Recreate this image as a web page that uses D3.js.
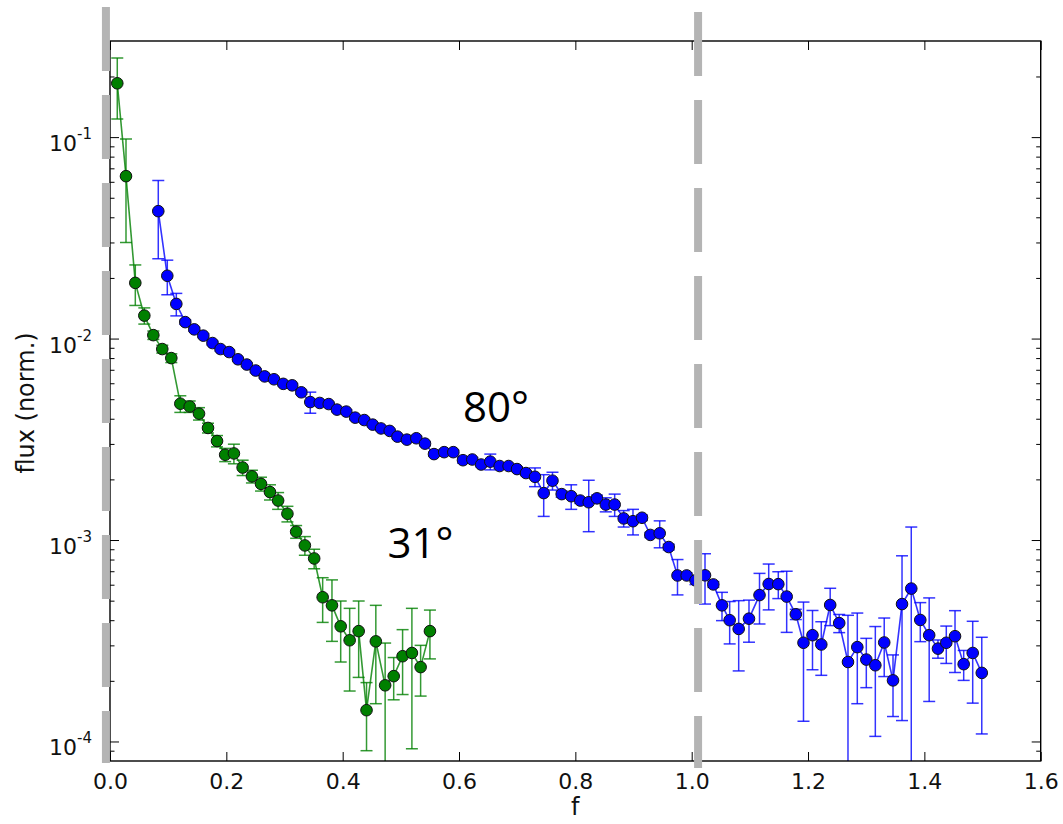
<!DOCTYPE html>
<html>
<head>
<meta charset="utf-8">
<script src="https://cdn.jsdelivr.net/npm/d3@7"></script>
<style>
  body { margin: 0; background: #fff; }
  svg { display: block; }
</style>
</head>
<body>
<div id="chart"></div>
<script>
// 31 degree series (green)
const greenF = [0.0125, 0.0275, 0.0435, 0.059, 0.0745, 0.0899, 0.1054, 0.1209, 0.137, 0.153,
  0.1685, 0.184, 0.198, 0.213, 0.228, 0.244, 0.2596, 0.275, 0.289, 0.305,
  0.320, 0.335, 0.351, 0.3656, 0.3816, 0.3966, 0.412, 0.4275, 0.441, 0.457,
  0.473, 0.4877, 0.503, 0.519, 0.534, 0.550];
const greenFlux = [0.185, 0.064, 0.0189, 0.013, 0.0104, 0.00887, 0.0080, 0.00475, 0.0046, 0.00424,
  0.0036, 0.0031, 0.00265, 0.00269, 0.00229, 0.00207, 0.0019, 0.00173, 0.00157, 0.00135,
  0.0011, 0.00094, 0.00081, 0.00052, 0.000474, 0.000373, 0.000318, 0.000353, 0.000143, 0.000314,
  0.00019, 0.000211, 0.000265, 0.000275, 0.000234, 0.000353];
const greenErr = [0.062, 0.034, 0.0043, 0.0012, 0.0005, 0.0004, 0.0004, 0.00045, 0.0003, 0.0003,
  0.0002, 0.0002, 0.0002, 0.0003, 0.0002, 0.00015, 0.00015, 0.00015, 0.00015, 0.00012,
  0.00008, 0.0001, 0.00009, 0.00013, 0.00016, 0.000125, 0.00014, 0.000145, 0.000053, 0.00016,
  0.000118, 0.00005, 0.000094, 0.000183, 0.000066, 0.000096];

// 80 degree series (blue)
const blueF = [0.0830, 0.0985, 0.1140, 0.1294, 0.1449, 0.1604, 0.1762, 0.1900, 0.2049, 0.2200,
  0.2352, 0.2505, 0.2659, 0.2819, 0.2979, 0.3132, 0.3289, 0.3443, 0.3605, 0.3760,
  0.3902, 0.4062, 0.4215, 0.4372, 0.4516, 0.4659, 0.4808, 0.4942, 0.5104, 0.5266,
  0.5415, 0.5570, 0.5745, 0.5902, 0.6068, 0.6228, 0.6381, 0.6538, 0.6698, 0.6852,
  0.6997, 0.7151, 0.7306, 0.7456, 0.7607, 0.7765, 0.7929, 0.8085, 0.8230, 0.8372,
  0.8523, 0.8676, 0.8831, 0.8991, 0.9146, 0.9289, 0.9450, 0.9605, 0.9756, 0.9914,
  1.0065, 1.0229, 1.0372, 1.0521, 1.0653, 1.0808, 1.0985, 1.1166, 1.1324, 1.1489,
  1.1633, 1.1790, 1.1922, 1.2077, 1.2228, 1.2381, 1.2536, 1.2687, 1.2847, 1.3002,
  1.3157, 1.3310, 1.3461, 1.3616, 1.3775, 1.3930, 1.4083, 1.4234, 1.4377, 1.4527,
  1.4676, 1.4831, 1.4987];
const blueFlux = [0.0429, 0.0205, 0.01486, 0.01207, 0.01111, 0.01034, 0.0095, 0.00887, 0.00857, 0.00789,
  0.00743, 0.00694, 0.00649, 0.00628, 0.00596, 0.00586, 0.00541, 0.00484, 0.00479, 0.00473,
  0.00444, 0.00434, 0.00405, 0.00394, 0.00374, 0.00358, 0.00348, 0.00326, 0.00315, 0.00320,
  0.00301, 0.00267, 0.00273, 0.00273, 0.00249, 0.00251, 0.00237, 0.00245, 0.00233, 0.00233,
  0.00225, 0.00215, 0.00206, 0.00171, 0.00197, 0.00169, 0.00165, 0.00157, 0.00154, 0.00161,
  0.00150, 0.00150, 0.00128, 0.00124, 0.00129, 0.00106, 0.00108, 0.000923, 0.000667, 0.000667,
  0.000631, 0.000668, 0.000602, 0.000474, 0.000400, 0.000362, 0.000407, 0.000533, 0.000605, 0.000604,
  0.000524, 0.000428, 0.000309, 0.000337, 0.000303, 0.000476, 0.000387, 0.000248, 0.000294, 0.000255,
  0.000239, 0.000310, 0.000201, 0.000481, 0.000574, 0.000401, 0.000337, 0.000289, 0.000309, 0.000333,
  0.000242, 0.000275, 0.000219];
const blueErr = [0.018, 0.004, 0.0019, 0.0003, 0.00025, 0.00022, 0.0002, 0.0002, 0.00018, 0.00017,
  0.00016, 0.00015, 0.00014, 0.00013, 0.00013, 0.00012, 0.00012, 0.00058, 0.0001, 0.0001,
  0.0001, 0.00009, 0.00009, 0.00008, 0.00008, 0.00008, 0.00007, 0.00007, 0.00007, 0.00007,
  0.00007, 0.00006, 0.00008, 0.00006, 0.00008, 0.00006, 0.00006, 0.00022, 0.00006, 0.00005,
  0.00006, 0.00006, 0.00022, 0.0004, 0.0002, 0.00006, 0.00023, 0.00005, 0.00044, 0.00006,
  0.00012, 0.00019, 0.00012, 0.00018, 0.00004, 0.00003, 0.000165, 0.00003, 0.000133, 0.00002,
  0.00003, 0.000187, 0.00002, 0.000076, 0.000095, 0.000138, 0.000096, 0.00015, 0.000155, 0.000092,
  0.000176, 0.000025, 0.000183, 0.00011, 0.00009, 0.0001, 0.00004, 0.000175, 0.00014, 0.00007,
  0.000133, 0.0001, 0.000068, 0.000354, 0.000586, 0.000088, 0.000179, 0.00003, 0.000065, 0.000113,
  0.000041, 0.00012, 0.00011];

// axes
const xTicks = [0.0, 0.2, 0.4, 0.6, 0.8, 1.0, 1.2, 1.4, 1.6];
const yMajor = [1e-4, 1e-3, 1e-2, 1e-1];
const yExponents = ["-4", "-3", "-2", "-1"];
const xDomain = [0, 1.6];
const yDomain = [8e-5, 0.3];

// annotations
const labelText = ["80°", "31°"];
const labelF = [0.607, 0.477];
const labelFlux = [0.00385, 0.00081];
const guideF = [-0.007, 1.011];

const width = 1063;
const height = 824;
const margin = { top: 41, right: 22.3, bottom: 63, left: 110 };
const plotRight = width - margin.right;
const plotBottom = height - margin.bottom;

const svg = d3.select("#chart").append("svg")
  .attr("width", width)
  .attr("height", height);

const x = d3.scaleLinear().domain(xDomain).range([margin.left, plotRight]);
const y = d3.scaleLog().domain(yDomain).range([plotBottom, margin.top]);

// minor log ticks
const yMinor = [];
for (let e = -5; e <= -1; e++) {
  for (let k = 2; k <= 9; k++) {
    const v = k * Math.pow(10, e);
    if (v > yDomain[0] && v < yDomain[1]) yMinor.push(v);
  }
}

const styleAxis = g => {
  g.select(".domain").remove();
  g.selectAll(".tick line").attr("stroke", "#000").attr("stroke-width", 1);
  g.selectAll("text")
    .attr("font-family", "DejaVu Sans, sans-serif")
    .attr("font-size", 22)
    .attr("fill", "#111");
};

svg.append("g")
  .attr("transform", `translate(0,${plotBottom})`)
  .call(d3.axisBottom(x).tickValues(xTicks).tickSize(-9).tickPadding(12).tickFormat(d3.format(".1f")))
  .call(styleAxis);

svg.append("g")
  .attr("transform", `translate(0,${margin.top})`)
  .call(d3.axisTop(x).tickValues(xTicks).tickSize(-9).tickFormat(""))
  .call(styleAxis);

svg.append("g")
  .attr("transform", `translate(${margin.left},0)`)
  .call(d3.axisLeft(y).tickValues(yMajor).tickSize(-9).tickFormat(""))
  .call(styleAxis);
svg.append("g")
  .attr("transform", `translate(${margin.left},0)`)
  .call(d3.axisLeft(y).tickValues(yMinor).tickSize(-4.5).tickFormat(""))
  .call(styleAxis);
svg.append("g")
  .attr("transform", `translate(${plotRight},0)`)
  .call(d3.axisRight(y).tickValues(yMajor).tickSize(-9).tickFormat(""))
  .call(styleAxis);
svg.append("g")
  .attr("transform", `translate(${plotRight},0)`)
  .call(d3.axisRight(y).tickValues(yMinor).tickSize(-4.5).tickFormat(""))
  .call(styleAxis);

// y tick labels 10^n
const yLabels = svg.append("g")
  .attr("font-family", "DejaVu Sans, sans-serif")
  .attr("fill", "#111");
yMajor.forEach((v, i) => {
  const t = yLabels.append("text")
    .attr("x", margin.left - 18)
    .attr("y", y(v) + 14)
    .attr("text-anchor", "end")
    .attr("font-size", 22);
  t.append("tspan").text("10");
  t.append("tspan").attr("dy", -12).attr("font-size", 15).text(yExponents[i]);
});

// axis titles
svg.append("text")
  .attr("transform", `translate(34,${(margin.top + plotBottom) / 2 + 2}) rotate(-90)`)
  .attr("text-anchor", "middle")
  .attr("font-family", "DejaVu Sans, sans-serif")
  .attr("font-size", 24)
  .attr("fill", "#111")
  .text("flux (norm.)");

svg.append("text")
  .attr("x", (margin.left + plotRight) / 2)
  .attr("y", 815)
  .attr("text-anchor", "middle")
  .attr("font-family", "DejaVu Sans, sans-serif")
  .attr("font-size", 24)
  .attr("fill", "#111")
  .text("f");

// data
svg.append("clipPath").attr("id", "plot-clip")
  .append("rect")
  .attr("x", margin.left).attr("y", margin.top)
  .attr("width", plotRight - margin.left).attr("height", plotBottom - margin.top);

const plot = svg.append("g").attr("clip-path", "url(#plot-clip)");

function drawSeries(fVals, fluxVals, errVals, color) {
  const pts = fVals.map((f, i) => ({ f: f, v: fluxVals[i], e: errVals[i] }));
  const g = plot.append("g");
  const capW = 6;

  const bars = g.append("g")
    .attr("stroke", color)
    .attr("stroke-opacity", 0.8)
    .attr("stroke-width", 1.5);

  pts.forEach(d => {
    const hi = d.v + d.e;
    const lo = d.v - d.e;
    const px = x(d.f);
    const yHi = y(hi);
    const yLo = lo > yDomain[0] ? y(lo) : plotBottom + 5;
    bars.append("line").attr("x1", px).attr("x2", px).attr("y1", yHi).attr("y2", yLo);
    bars.append("line").attr("x1", px - capW).attr("x2", px + capW).attr("y1", yHi).attr("y2", yHi);
    if (lo > yDomain[0]) {
      bars.append("line").attr("x1", px - capW).attr("x2", px + capW).attr("y1", yLo).attr("y2", yLo);
    }
  });

  g.append("path")
    .datum(pts)
    .attr("fill", "none")
    .attr("stroke", color)
    .attr("stroke-opacity", 0.8)
    .attr("stroke-width", 1.6)
    .attr("d", d3.line().x(d => x(d.f)).y(d => y(d.v)));

  g.selectAll("circle")
    .data(pts)
    .enter().append("circle")
    .attr("cx", d => x(d.f))
    .attr("cy", d => y(d.v))
    .attr("r", 5.8)
    .attr("fill", color)
    .attr("stroke", "#111")
    .attr("stroke-width", 1);
}

drawSeries(greenF, greenFlux, greenErr, "#008000");
drawSeries(blueF, blueFlux, blueErr, "#0000ff");

// frame
svg.append("rect")
  .attr("x", margin.left).attr("y", margin.top)
  .attr("width", plotRight - margin.left).attr("height", plotBottom - margin.top)
  .attr("fill", "none")
  .attr("stroke", "#000")
  .attr("stroke-width", 1.4);

// annotations
labelText.forEach((t, i) => {
  svg.append("text")
    .attr("x", x(labelF[i]))
    .attr("y", y(labelFlux[i]))
    .attr("font-family", "Open Sans, Noto Sans, sans-serif")
    .attr("font-size", 42)
    .attr("fill", "#000")
    .text(t);
});

// grey dashed guides drawn over the plot
const guideTop = [margin.top - 34, margin.top - 29];
const guideBottom = [plotBottom + 2, plotBottom + 7];
guideF.forEach((f, i) => {
  svg.append("line")
    .attr("x1", x(f)).attr("x2", x(f))
    .attr("y1", guideTop[i]).attr("y2", guideBottom[i])
    .attr("stroke", "#b4b4b4")
    .attr("stroke-width", 8)
    .attr("stroke-dasharray", "64 24");
});
</script>
</body>
</html>
